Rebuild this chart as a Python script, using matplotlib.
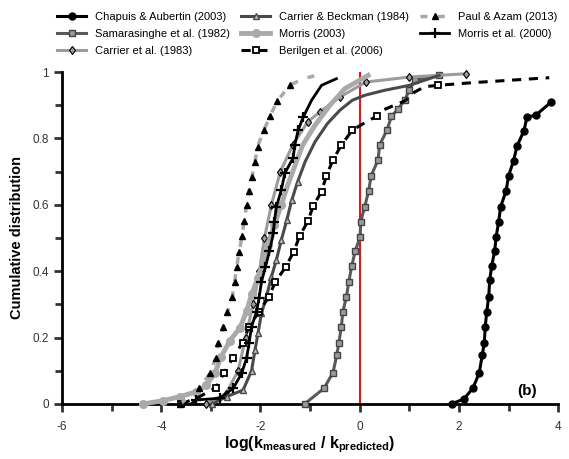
import matplotlib.pyplot as plt
from matplotlib.ticker import FixedLocator, NullFormatter

plt.rcParams["font.family"] = ["Liberation Sans", "DejaVu Sans"]
plt.rcParams["mathtext.fontset"] = "custom"
plt.rcParams["mathtext.rm"] = "Liberation Sans:bold"
plt.rcParams["mathtext.bf"] = "Liberation Sans:bold"

# --- data ---
chapuis_x = [1.85, 2.10, 2.28, 2.41, 2.47, 2.51, 2.53, 2.56, 2.60, 2.62, 2.66, 2.72, 2.75,
             2.80, 2.84, 2.95, 3.00, 3.10, 3.17, 3.31, 3.37, 3.55, 3.86]
chapuis_y = [0.0, 0.015, 0.047, 0.094, 0.148, 0.183, 0.233, 0.278, 0.323, 0.373, 0.416, 0.461,
             0.504, 0.549, 0.594, 0.642, 0.687, 0.733, 0.777, 0.823, 0.864, 0.870, 0.91]

sama_x = [-1.11, -0.72, -0.54, -0.46, -0.42, -0.37, -0.34, -0.27, -0.22, -0.16, -0.09, 0.01,
          0.02, 0.10, 0.18, 0.23, 0.37, 0.40, 0.55, 0.64, 0.78, 0.91, 1.0, 1.11, 1.6]
sama_y = [0.0, 0.047, 0.094, 0.148, 0.185, 0.233, 0.278, 0.321, 0.368, 0.416, 0.461, 0.504,
          0.549, 0.594, 0.642, 0.688, 0.735, 0.78, 0.825, 0.867, 0.89, 0.916, 0.946, 0.976, 0.99]

carrier83_x = [-3.1, -2.7, -2.45, -2.3, -2.15, -2.02, -1.92, -1.78, -1.6, -1.35, -1.05, -0.8,
               -0.4, 0.13, 1.0, 2.15]
carrier83_y = [0.0, 0.03, 0.1, 0.2, 0.3, 0.4, 0.5, 0.6, 0.7, 0.78, 0.85, 0.88, 0.925, 0.97,
               0.985, 0.995]

beckman_x = [-2.98, -2.68, -2.35, -2.18, -2.11, -2.05, -1.98, -1.88, -1.78, -1.68, -1.58, -1.47,
             -1.37, -1.25, -1.1, -0.9, -0.65, -0.4, -0.15, 0.1, 0.5, 1.0, 1.3, 1.6]
beckman_y = [0.0, 0.022, 0.042, 0.10, 0.163, 0.213, 0.273, 0.323, 0.383, 0.434, 0.494, 0.554,
             0.614, 0.67, 0.73, 0.79, 0.845, 0.885, 0.915, 0.93, 0.945, 0.96, 0.975, 0.99]

morris03_x = [-4.36, -3.96, -3.62, -3.29, -3.09, -2.92, -2.8, -2.62, -2.41, -2.28, -2.18, -2.05,
              -1.95, -1.85, -1.72, -1.58, -1.45, -1.3, -1.15, -0.9, -0.6, -0.3, 0.17]
morris03_y = [0.0, 0.01, 0.022, 0.037, 0.057, 0.092, 0.14, 0.19, 0.23, 0.28, 0.33, 0.38,
              0.43, 0.48, 0.54, 0.6, 0.66, 0.72, 0.78, 0.84, 0.9, 0.95, 0.99]

berilgen_x = [-3.6, -3.25, -2.9, -2.73, -2.56, -2.36, -2.23, -2.03, -1.83, -1.70, -1.49, -1.33,
              -1.21, -1.04, -0.94, -0.77, -0.67, -0.54, -0.37, -0.15, 0.10, 0.34, 0.46, 0.70,
              0.91, 1.11, 1.31, 1.58, 2.27, 3.82]
berilgen_y = [0.0, 0.02, 0.049, 0.094, 0.138, 0.185, 0.233, 0.278, 0.323, 0.368, 0.413, 0.459,
              0.506, 0.552, 0.596, 0.64, 0.688, 0.735, 0.78, 0.825, 0.847, 0.867, 0.885, 0.90,
              0.913, 0.94, 0.956, 0.96, 0.968, 0.983]

paul_x = [-3.62, -3.23, -3.02, -2.90, -2.85, -2.75, -2.67, -2.57, -2.52, -2.48, -2.43, -2.37,
          -2.33, -2.28, -2.23, -2.17, -2.11, -2.06, -1.93, -1.81, -1.66, -1.41, -1.14, -0.85]
paul_y = [0.0, 0.047, 0.092, 0.139, 0.185, 0.231, 0.276, 0.321, 0.368, 0.413, 0.459, 0.506,
          0.552, 0.599, 0.642, 0.685, 0.73, 0.775, 0.825, 0.867, 0.913, 0.96, 0.98, 0.991]

morris00_x = [-3.4, -3.3, -2.82, -2.55, -2.38, -2.28, -2.23, -2.18, -2.08, -2.03, -1.98, -1.90,
              -1.82, -1.74, -1.72, -1.68, -1.58, -1.51, -1.34, -1.31, -1.24, -1.14, -0.97,
              -0.77, -0.47]
morris00_y = [0.0, 0.012, 0.017, 0.047, 0.092, 0.138, 0.183, 0.233, 0.278, 0.318, 0.368, 0.413,
              0.46, 0.514, 0.549, 0.594, 0.645, 0.695, 0.742, 0.78, 0.825, 0.864, 0.915,
              0.96, 0.98]

fig = plt.figure(figsize=(5.69, 4.59), dpi=100)
ax = fig.add_axes([0.109, 0.12, 0.872, 0.723])

ax.axvline(0, color="#e8141c", lw=1.5, zorder=1)

kw = dict(clip_on=False, zorder=3)
ax.plot(chapuis_x, chapuis_y, color="black", lw=2.2, marker="o", ms=5,
        mfc="black", mec="black", label="Chapuis & Aubertin (2003)", **kw)
ax.plot(sama_x, sama_y, color="#5a5a5a", lw=2.2, marker="s", ms=4.5, mfc="#9a9a9a",
        mec="#444444", mew=1.0, label="Samarasinghe et al. (1982)", **kw)
ax.plot(carrier83_x, carrier83_y, color="#9c9c9c", lw=2.2, marker="d", ms=4.5,
        mfc="#9c9c9c", mec="black", mew=0.8, label="Carrier et al. (1983)", **kw)
ax.plot(beckman_x, beckman_y, color="#4a4a4a", lw=2.2, marker="^", ms=4.5, mfc="#bdbdbd",
        mec="#4a4a4a", mew=1.0, markevery=list(range(0, 14)),
        label="Carrier & Beckman (1984)", **kw)
ax.plot(morris03_x, morris03_y, color="#aaaaaa", lw=3.5, marker="o", ms=5.5, mfc="#aaaaaa",
        mec="#aaaaaa", markevery=list(range(0, 16)), label="Morris (2003)", **kw)
ax.plot(berilgen_x, berilgen_y, color="black", lw=2.2, ls=(0, (3, 2.5)), marker="s", ms=4.5,
        mfc="white", mec="black", mew=1.3,
        markevery=[0, 2, 3, 4, 5, 6, 7, 8, 9, 10, 11, 12, 13, 14, 15, 16, 17, 18, 19, 21, 27],
        label="Berilgen et al. (2006)", **kw)
ax.plot(paul_x, paul_y, color="#a8a8a8", lw=2.5, ls=(0, (2, 3)), marker="^", ms=5,
        mfc="black", mec="black", markevery=list(range(0, 22)),
        label="Paul & Azam (2013)", **kw)
ax.plot(morris00_x, morris00_y, color="black", lw=2.0, marker="+", ms=7, mew=1.6,
        markevery=list(range(1, 22)), label="Morris et al. (2000)", **kw)

ax.set_xlim(-6, 4)
ax.set_ylim(0, 1)
ax.xaxis.set_major_locator(FixedLocator([-6, -4, -2, 0, 2, 4]))
ax.xaxis.set_minor_locator(FixedLocator([-5, -3, -1, 1, 3]))
ax.set_xticklabels(["-6", "-4", "-2", "0", "2", "4"])
ax.yaxis.set_major_locator(FixedLocator([0, 0.2, 0.4, 0.6, 0.8, 1.0]))
ax.yaxis.set_minor_locator(FixedLocator([0.1, 0.3, 0.5, 0.7, 0.9]))
ax.set_yticklabels(["0", "0.2", "0.4", "0.6", "0.8", "1"])
ax.xaxis.set_minor_formatter(NullFormatter())
ax.tick_params(which="both", direction="out", width=2, labelsize=8.5, colors="#333333",
               labelcolor="#333333")
ax.tick_params(which="major", length=6)
ax.tick_params(which="minor", length=5)
ax.tick_params(axis="x", pad=6)
for side in ("top", "right"):
    ax.spines[side].set_visible(False)
for side in ("left", "bottom"):
    ax.spines[side].set_linewidth(2)

ax.set_xlabel(r"log(k$_{\mathrm{measured}}$ / k$_{\mathrm{predicted}}$)", fontsize=11.5,
              fontweight="bold", labelpad=1)
ax.set_ylabel("Cumulative distribution", fontsize=10.5, fontweight="bold", labelpad=6)
ax.text(3.38, 0.04, "(b)", fontsize=11, fontweight="bold", ha="center", va="center")

fig.legend(loc="upper center", bbox_to_anchor=(0.54, 0.995), ncol=3, frameon=False,
           fontsize=8, handlelength=2.6, columnspacing=1.0, labelspacing=0.6,
           handletextpad=0.8)

fig.savefig("out.png", dpi=100)
